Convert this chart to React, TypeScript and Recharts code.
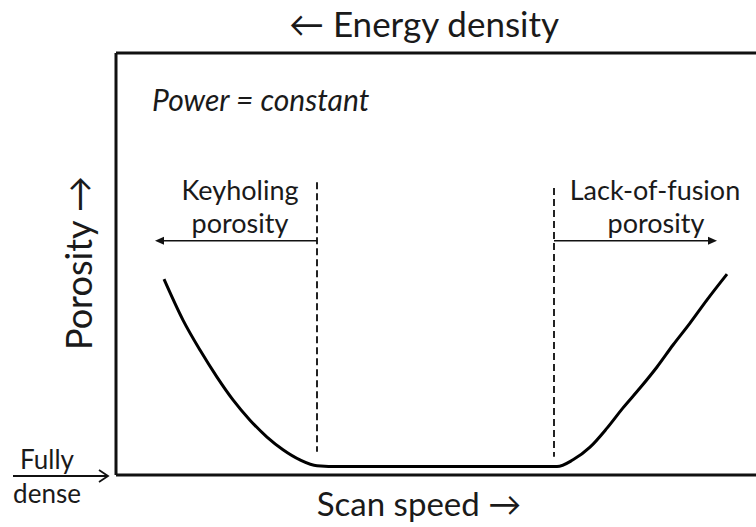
import { LineChart, Line, XAxis, YAxis, ReferenceLine, Customized } from 'recharts';

// scan speed (arbitrary units) and porosity (% of frame height)
const speed = [48, 67, 84, 101, 117, 134, 151, 167, 184, 201, 224, 330, 441, 457, 474, 491, 507, 524, 541, 557, 574, 591, 611];
const porosity = [46.4, 36.7, 29.6, 23.2, 17.8, 13.0, 9.0, 6.0, 3.6, 2.2, 2.0, 2.0, 2.0, 3.6, 6.6, 11.1, 15.9, 20.6, 25.6, 30.8, 36.0, 41.5, 47.6];

// regime boundaries (dashed) and arrow tips
const keyholeLimit = 201;
const lofLimit = 438;
const keyholeArrowTip = 39;
const lofArrowTip = 601;
const arrowLevel = 55.5;

const data = speed.map((s, i) => ({ speed: s, porosity: porosity[i] }));

const FONT = 'Lato, "Open Sans", sans-serif';

type SegProps = { x1?: number; y1?: number; x2?: number; y2?: number };

function ArrowShape(props: SegProps) {
  const { x1 = 0, y1 = 0, x2 = 0, y2 = 0 } = props;
  const dir = x2 > x1 ? 1 : -1;
  return (
    <g>
      <line x1={x1} y1={y1} x2={x2 - dir * 6} y2={y2} stroke="#111" strokeWidth={1.6} />
      <path d={`M${x2},${y2} L${x2 - dir * 9},${y2 - 4} L${x2 - dir * 9},${y2 + 4} Z`} fill="#111" />
    </g>
  );
}

function Annotations() {
  return (
    <g fontFamily={FONT} fill="#1a1a1a">
      <text x={424} y={37} textAnchor="middle" fontSize={35}>← Energy density</text>
      <text x={152} y={111} fontSize={30} fontStyle="italic">Power = constant</text>
      <text x={240} y={200} textAnchor="middle" fontSize={27}>Keyholing</text>
      <text x={240} y={233} textAnchor="middle" fontSize={27}>porosity</text>
      <text x={655} y={200} textAnchor="middle" fontSize={27}>Lack-of-fusion</text>
      <text x={656} y={233} textAnchor="middle" fontSize={27}>porosity</text>
      <text x={419} y={516} textAnchor="middle" fontSize={33}>Scan speed →</text>
      <text x={92} y={263} textAnchor="middle" fontSize={36} transform="rotate(-90 92 263)">Porosity →</text>
      <text x={47} y={469} textAnchor="middle" fontSize={26}>Fully</text>
      <text x={47} y={503} textAnchor="middle" fontSize={26}>dense</text>
      <line x1={13} y1={476} x2={107} y2={476} stroke="#111" strokeWidth={1.8} />
      <path d="M99,470 L108,476 L99,482" fill="none" stroke="#111" strokeWidth={1.8} />
    </g>
  );
}

export default function App() {
  return (
    <div style={{ position: 'absolute', left: 0, top: 0, width: 756, height: 527, background: '#fff' }}>
      <LineChart width={756} height={527} data={data} margin={{ top: 53, right: 0, bottom: 52, left: 116 }}>
        <XAxis dataKey="speed" type="number" domain={[0, 640]} height={0} tick={false} tickLine={false} axisLine={false} />
        <YAxis type="number" domain={[0, 100]} width={0} tick={false} tickLine={false} axisLine={false} />
        {/* frame: top, left and bottom edges */}
        <ReferenceLine y={100} stroke="#111" strokeWidth={3} />
        <ReferenceLine y={0} stroke="#111" strokeWidth={3} />
        <ReferenceLine x={0} stroke="#111" strokeWidth={3} />
        <ReferenceLine
          segment={[{ x: keyholeLimit, y: 69.4 }, { x: keyholeLimit, y: 5.5 }]}
          stroke="#222"
          strokeWidth={2}
          strokeDasharray="7 4"
        />
        <ReferenceLine
          segment={[{ x: lofLimit, y: 68 }, { x: lofLimit, y: 4.3 }]}
          stroke="#222"
          strokeWidth={2}
          strokeDasharray="7 4"
        />
        <ReferenceLine
          segment={[{ x: keyholeLimit, y: arrowLevel }, { x: keyholeArrowTip, y: arrowLevel }]}
          shape={(p: SegProps) => <ArrowShape {...p} />}
        />
        <ReferenceLine
          segment={[{ x: lofLimit, y: arrowLevel }, { x: lofArrowTip, y: arrowLevel }]}
          shape={(p: SegProps) => <ArrowShape {...p} />}
        />
        <Line
          type="monotone"
          dataKey="porosity"
          stroke="#000"
          strokeWidth={3}
          dot={false}
          activeDot={false}
          isAnimationActive={false}
        />
        <Customized component={Annotations} />
      </LineChart>
    </div>
  );
}
